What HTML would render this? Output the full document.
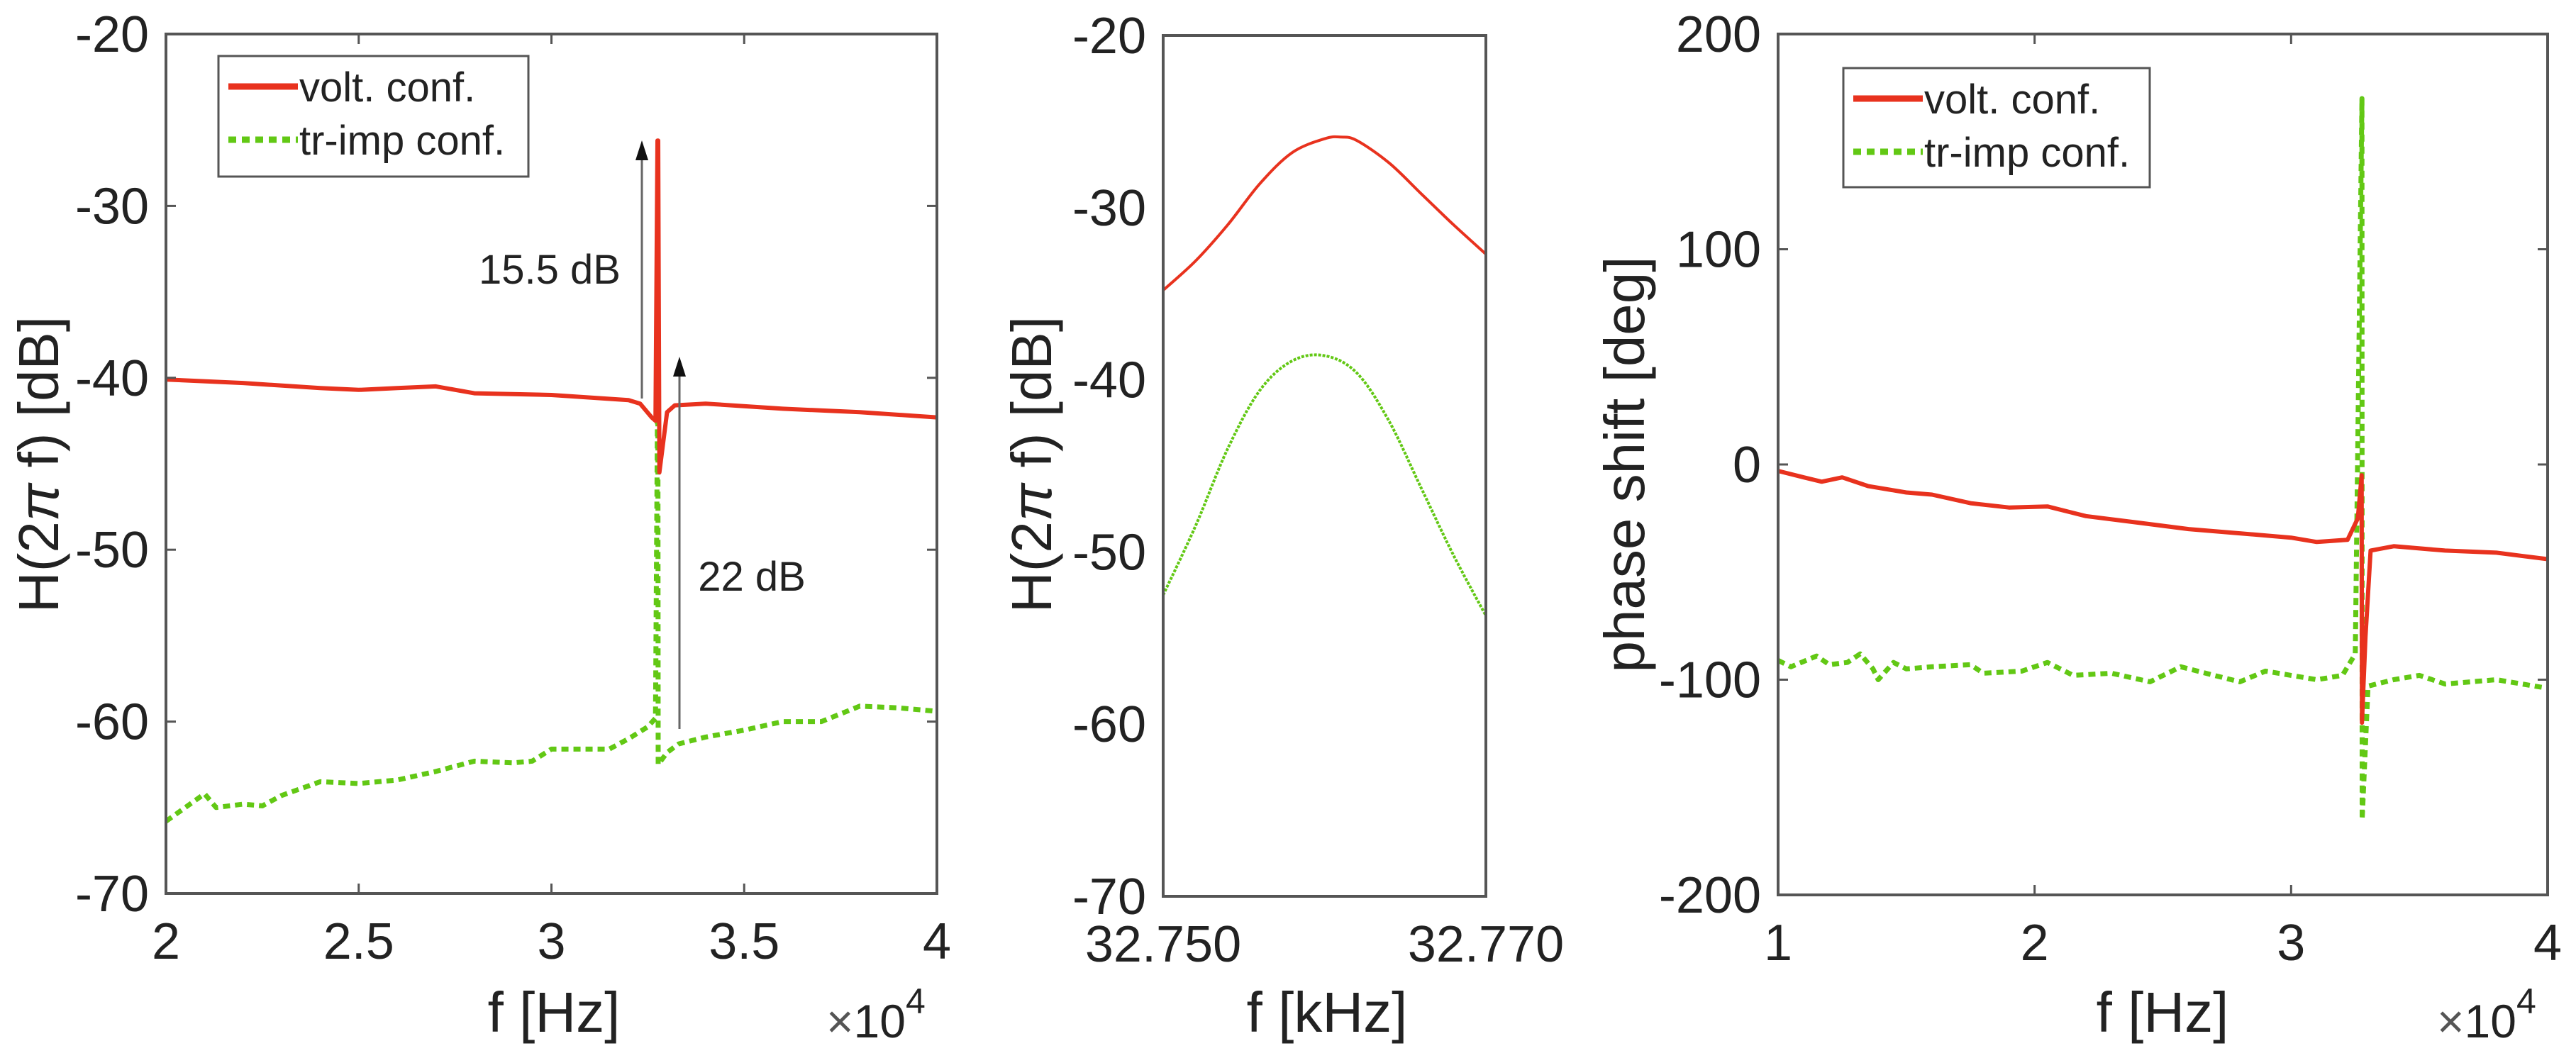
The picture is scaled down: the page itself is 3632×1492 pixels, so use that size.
<!DOCTYPE html>
<html><head><meta charset="utf-8">
<style>
html,body{margin:0;padding:0;background:#fff;}
svg{display:block;font-family:"Liberation Sans",Arial,sans-serif;}
</style></head>
<body>
<svg id="fig" width="3632" height="1492" viewBox="0 0 3632 1492" xmlns="http://www.w3.org/2000/svg"></svg>
<script>
// ---- data ----
const magFreq = [2.0,2.2,2.4,2.5,2.6,2.7,2.8,3.0,3.2,3.23,3.26,3.27,3.275,3.277,3.28,3.30,3.32,3.4,3.6,3.8,4.0];
const magVolt = [-40.1,-40.3,-40.6,-40.7,-40.6,-40.5,-40.9,-41.0,-41.3,-41.5,-42.3,-42.5,-26.2,-26.2,-45.5,-42.0,-41.6,-41.5,-41.8,-42.0,-42.3];
const magTrFreq = [2.0,2.1,2.13,2.2,2.25,2.3,2.4,2.5,2.6,2.7,2.8,2.9,2.95,3.0,3.15,3.2,3.25,3.27,3.276,3.277,3.30,3.33,3.4,3.5,3.6,3.7,3.8,3.9,4.0];
const magTr = [-65.8,-64.2,-65.0,-64.8,-64.9,-64.3,-63.5,-63.6,-63.4,-62.9,-62.3,-62.4,-62.3,-61.6,-61.6,-61.0,-60.3,-59.8,-38.7,-62.5,-61.8,-61.3,-60.9,-60.5,-60.0,-60.0,-59.1,-59.2,-59.4];
const zoomFreq = [32.750,32.752,32.754,32.756,32.758,32.760,32.761,32.762,32.764,32.766,32.768,32.770];
const zoomVolt = [-34.8,-33.1,-31.0,-28.6,-26.8,-26.0,-25.9,-26.1,-27.4,-29.2,-31.0,-32.7];
const zoomTrFreq = [32.750,32.752,32.754,32.756,32.758,32.760,32.762,32.764,32.766,32.768,32.770];
const zoomTr = [-52.5,-48.5,-44.0,-40.6,-38.9,-38.6,-39.6,-42.4,-46.3,-50.2,-53.7];
const phFreq = [1.0,1.1,1.17,1.25,1.35,1.5,1.6,1.75,1.9,2.05,2.2,2.4,2.6,2.8,3.0,3.1,3.22,3.26,3.275,3.276,3.29,3.31,3.4,3.6,3.8,4.0];
const phVolt = [-3,-6,-8,-6,-10,-13,-14,-18,-20,-19.5,-24,-27,-30,-32,-34,-36,-35,-25,-5,-120,-80,-40,-38,-40,-41,-44];
const phTrFreq = [1.0,1.05,1.15,1.2,1.27,1.32,1.37,1.39,1.45,1.5,1.6,1.75,1.8,1.95,2.05,2.15,2.3,2.45,2.57,2.7,2.8,2.9,3.0,3.1,3.2,3.25,3.276,3.277,3.3,3.4,3.5,3.6,3.8,4.0];
const phTr = [-91,-94,-89,-93,-92,-88,-95,-100,-92,-95,-94,-93,-97,-96,-92,-98,-97,-101,-94,-98,-101,-96,-98,-100,-98,-88,170,-165,-103,-100,-98,-102,-100,-104];
const magXTicks = [2,2.5,3,3.5,4];
const magXLabels = ["2","2.5","3","3.5","4"];
const magYTicks = [-70,-60,-50,-40,-30,-20];
const zoomXTicks = [32.750,32.770];
const zoomXLabels = ["32.750","32.770"];
const phXTicks = [1,2,3,4];
const phYTicks = [-200,-100,0,100,200];

const NS = "http://www.w3.org/2000/svg";
const svg = document.getElementById('fig');
function el(tag, attrs, parent){const e=document.createElementNS(NS,tag);for(const k in attrs)e.setAttribute(k,attrs[k]);(parent||svg).appendChild(e);return e;}
const RED="#e8321e", GREEN="#62c814";

function makeAxes(name,x0,x1,y0,y1,xmin,xmax,ymin,ymax){
  const g=el('g',{});
  
  
  const sx=v=>x0+(v-xmin)/(xmax-xmin)*(x1-x0);
  const sy=v=>y1-(v-ymin)/(ymax-ymin)*(y1-y0);
  return {g,sx,sy,x0,x1,y0,y1};
}
function frame(a){
  const r=el('rect',{x:a.x0,y:a.y0,width:a.x1-a.x0,height:a.y1-a.y0,fill:'none',stroke:'#555',"stroke-width":4},a.g);
  
  
}
function xticks(a,vals,labels,ticks){
  vals.forEach((v,i)=>{
    const x=a.sx(v);
    if(ticks){el('line',{x1:x,x2:x,y1:a.y1,y2:a.y1-14,stroke:'#555',"stroke-width":3},a.g);el('line',{x1:x,x2:x,y1:a.y0,y2:a.y0+14,stroke:'#555',"stroke-width":3},a.g);}
    const t=el('text',{x:x,y:a.y1+92,"font-size":72,"text-anchor":"middle",fill:"#222"},a.g);
    t.textContent=labels[i];
    
    
  });
}
function yticks(a,vals,ticks){
  vals.forEach(v=>{
    const y=a.sy(v);
    if(ticks){el('line',{x1:a.x0,x2:a.x0+14,y1:y,y2:y,stroke:'#555',"stroke-width":3},a.g);el('line',{x1:a.x1,x2:a.x1-14,y1:y,y2:y,stroke:'#555',"stroke-width":3},a.g);}
    const t=el('text',{x:a.x0-24,y:y+25,"font-size":72,"text-anchor":"end",fill:"#222"},a.g);
    t.textContent=String(v);
    
    
  });
}
function series(a,xs,ys,color,w,dash,name,smooth){
  let d='';
  const P=xs.map((x,i)=>[a.sx(x),a.sy(ys[i])]);
  if(!smooth){d=P.map((p,i)=>(i?'L':'M')+p[0].toFixed(1)+','+p[1].toFixed(1)).join('');}
  else{
    d='M'+P[0][0]+','+P[0][1];
    for(let i=0;i<P.length-1;i++){
      const p0=P[Math.max(0,i-1)],p1=P[i],p2=P[i+1],p3=P[Math.min(P.length-1,i+2)];
      const c1=[p1[0]+(p2[0]-p0[0])/6,p1[1]+(p2[1]-p0[1])/6];
      const c2=[p2[0]-(p3[0]-p1[0])/6,p2[1]-(p3[1]-p1[1])/6];
      d+='C'+c1[0].toFixed(1)+','+c1[1].toFixed(1)+' '+c2[0].toFixed(1)+','+c2[1].toFixed(1)+' '+p2[0].toFixed(1)+','+p2[1].toFixed(1);
    }
  }
  const p=el('path',{d:d,fill:'none',stroke:color,"stroke-width":w,"stroke-linejoin":"round"},a.g);
  if(dash)p.setAttribute('stroke-dasharray',dash);
  
  
}
function legend(x,y,w,h){
  const g=el('g',{});
  
  
  el('rect',{x:x,y:y,width:w,height:h,fill:'#fff',stroke:'#555',"stroke-width":3},g);
  const l1=el('line',{x1:x+14,x2:x+112,y1:y+43,y2:y+43,stroke:RED,"stroke-width":9},g);
  
  
  const t1=el('text',{x:x+114,y:y+64,"font-size":58,fill:"#222"},g);t1.textContent='volt. conf.';
  
  
  const l2=el('line',{x1:x+14,x2:x+112,y1:y+118,y2:y+118,stroke:GREEN,"stroke-width":9,"stroke-dasharray":"11 8"},g);
  
  
  const t2=el('text',{x:x+114,y:y+139,"font-size":58,fill:"#222"},g);t2.textContent='tr-imp conf.';
  
  
}
function label(txt,x,y,size,rot,name){
  const t=el('text',{x:x,y:y,"font-size":size,"text-anchor":"middle",fill:"#222"});
  if(rot)t.setAttribute('transform','rotate(-90 '+x+' '+y+')');
  t.innerHTML=txt;
  
  
  return t;
}
function exp10(x,y,name){
  const t=el('text',{x:x,y:y,"font-size":66,fill:"#222"});
  t.innerHTML='<tspan fill="#555">×</tspan>10<tspan dy="-34" font-size="50">4</tspan>';
  
  
}

// ---- left: magnitude ----
const A=makeAxes('magnitude-plot',234,1321,48,1260,2,4,-70,-20);
series(A,magTrFreq,magTr,GREEN,7,"10 7",'series-trimp-magnitude');
series(A,magFreq,magVolt,RED,6,null,'series-volt-magnitude');
frame(A);xticks(A,magXTicks,magXLabels,true);yticks(A,magYTicks,true);
legend(308,79,437,170);
// annotations
el('line',{x1:905,x2:905,y1:562,y2:215,stroke:'#666',"stroke-width":3});
el('path',{d:'M905,198 L896,226 L914,226 Z',fill:'#111'});
el('line',{x1:958,x2:958,y1:1028,y2:520,stroke:'#666',"stroke-width":3});
el('path',{d:'M958,503 L949,531 L967,531 Z',fill:'#111'});
label('15.5 dB',775,400,58,false,'annotation-15-5-db');
label('22 dB',1060,833,58,false,'annotation-22-db');
label('H(2<tspan font-style="italic">π</tspan> f) [dB]',82,655,80,true,'y-axis-title-magnitude');
label('f [Hz]',781,1455,80,false,'x-axis-title-magnitude');
exp10(1165,1463,'x-exponent-magnitude');

// ---- middle: zoom ----
const B=makeAxes('zoom-plot',1640,2095,50,1264,32.750,32.770,-70,-20);
series(B,zoomTrFreq,zoomTr,GREEN,4,"4 2",'series-trimp-zoom',true);
series(B,zoomFreq,zoomVolt,RED,4,null,'series-volt-zoom',true);
frame(B);xticks(B,zoomXTicks,zoomXLabels,false);yticks(B,magYTicks,false);
label('H(2<tspan font-style="italic">π</tspan> f) [dB]',1482,655,80,true,'y-axis-title-zoom');
label('f [kHz]',1871,1455,80,false,'x-axis-title-zoom');

// ---- right: phase ----
const C=makeAxes('phase-plot',2507,3592,48,1262,1,4,-200,200);
series(C,phTrFreq,phTr,GREEN,7,"10 7",'series-trimp-phase');
series(C,phFreq,phVolt,RED,6,null,'series-volt-phase');
frame(C);xticks(C,phXTicks,phXTicks.map(String),true);yticks(C,phYTicks,true);
legend(2599,96,432,168);
label('phase shift [deg]',2318,655,80,true,'y-axis-title-phase');
label('f [Hz]',3049,1455,80,false,'x-axis-title-phase');
exp10(3436,1463,'x-exponent-phase');
</script>
</body></html>
